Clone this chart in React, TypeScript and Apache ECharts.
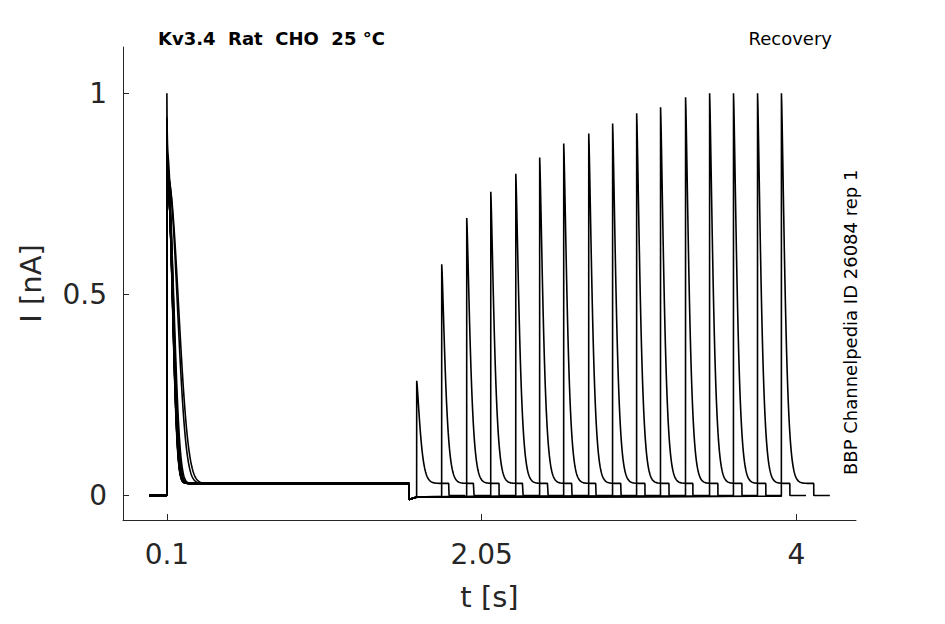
import React, { useEffect, useRef } from "react";
import * as echarts from "echarts";

const xTicks = [0.1, 2.05, 4];
const yTicks = [0, 0.5, 1];
// first pulse (t=0.1 s) peak and decay time constant per sweep
const firstPeaks = [1.0, 0.94, 0.93, 0.92, 0.93, 0.92, 0.93, 0.92, 0.93, 0.92, 0.92, 0.93, 0.92, 0.92, 0.93, 0.93];
const firstTaus = [0.05, 0.085, 0.095, 0.058, 0.052, 0.048, 0.047, 0.05, 0.046, 0.049, 0.052, 0.047, 0.049, 0.05, 0.047, 0.054];
// second (recovery) pulse onset and peak per sweep
const secondStarts = [1.648, 1.803, 1.958, 2.107, 2.262, 2.41, 2.559, 2.714, 2.862, 3.011, 3.159, 3.314, 3.463, 3.611, 3.76, 3.908];
const secondPeaks = [0.285, 0.575, 0.69, 0.755, 0.80, 0.84, 0.875, 0.90, 0.925, 0.95, 0.965, 0.99, 1.0, 1.0, 1.0, 1.0];
const plateau = 0.03;
const pulseEnd1 = 1.6;
const pulseWidth2 = 0.2;

function sweep(i: number): number[][] {
  const pts: number[][] = [];
  const s2 = secondStarts[i];
  const tEnd = s2 + pulseWidth2 + 0.1;
  pts.push([-0.01, 0], [0.0995, 0]);
  for (let t = 0.1; t <= pulseEnd1; t += t < 0.4 ? 0.001 : 0.01) {
    const d = t - 0.1;
    const a = firstPeaks[i];
    const y = plateau + (a - plateau) * (0.15 * Math.exp(-d / 0.002) + 0.85 * Math.exp(-Math.pow(d / firstTaus[i], 2.2)));
    pts.push([t, y]);
  }
  pts.push([pulseEnd1, plateau], [pulseEnd1 + 0.0005, -0.01], [pulseEnd1 + 0.05, -0.004], [s2 - 0.0005, -0.002]);
  for (let t = s2; t <= s2 + pulseWidth2; t += 0.002) {
    const d = t - s2;
    const y = plateau + (secondPeaks[i] - plateau) * Math.exp(-Math.pow(d / 0.03, 1.3));
    pts.push([t, y]);
  }
  pts.push([s2 + pulseWidth2, plateau], [s2 + pulseWidth2 + 0.0005, 0], [tEnd, 0]);
  return pts;
}

export default function App() {
  const ref = useRef<HTMLDivElement>(null);
  useEffect(() => {
    const chart = echarts.init(ref.current!, null, { renderer: "svg" });
    const txt = "#262626";
    chart.setOption({
      animation: false,
      grid: { left: 114, right: 81, top: 39, bottom: 90 },
      xAxis: {
        type: "value", min: -0.172, max: 4.37,
        name: "t [s]", nameLocation: "middle", nameGap: 62,
        nameTextStyle: { fontSize: 29, color: txt, fontFamily: "DejaVu Sans" },
        axisLine: { onZero: false, lineStyle: { color: "#262626" } },
        axisTick: { customValues: xTicks, inside: true, length: 6, lineStyle: { color: "#262626" } },
        axisLabel: { customValues: xTicks, fontSize: 28, color: txt, fontFamily: "DejaVu Sans", margin: 20, formatter: (v: number) => String(v) },
        splitLine: { show: false },
      },
      yAxis: {
        type: "value", min: -0.061, max: 1.115,
        name: "I [nA]", nameLocation: "middle", nameGap: 78,
        nameTextStyle: { fontSize: 29, color: txt, fontFamily: "DejaVu Sans" },
        axisLine: { show: true, onZero: false, lineStyle: { color: "#262626" } },
        axisTick: { customValues: yTicks, inside: true, length: 6, lineStyle: { color: "#262626" } },
        axisLabel: { customValues: yTicks, fontSize: 28, color: txt, fontFamily: "DejaVu Sans", margin: 16, formatter: (v: number) => String(v) },
        splitLine: { show: false },
      },
      graphic: [
        { type: "text", left: 150, top: 21, style: { text: "Kv3.4  Rat  CHO  25 °C", font: "bold 18px DejaVu Sans", fill: "#000" } },
        { type: "text", right: 105, top: 21, style: { text: "Recovery", font: "18px DejaVu Sans", fill: "#000" } },
        { type: "text", x: 833, y: 467, rotation: Math.PI / 2, style: { text: "BBP Channelpedia ID 26084 rep 1", font: "18px DejaVu Sans", fill: "#000" } },
      ],
      series: secondStarts.map((_, i) => ({
        type: "line", data: sweep(i), showSymbol: false, silent: true,
        lineStyle: { color: "#000", width: 1.6 },
      })),
    });
    return () => chart.dispose();
  }, []);
  return <div ref={ref} style={{ width: 929, height: 608 }} />;
}
